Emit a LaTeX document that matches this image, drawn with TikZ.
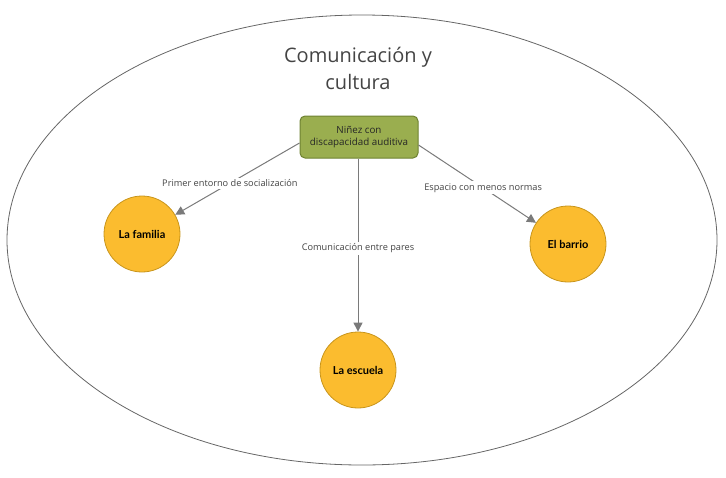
\documentclass[tikz,border=0pt]{standalone}
\usepackage{fontspec}
\setmainfont{Open Sans}
\newfontfamily\latofont{Lato}
\usepackage{xcolor}
\usetikzlibrary{arrows.meta, positioning, shapes.geometric}

\definecolor{boxgreen}{HTML}{9AAE4F}
\definecolor{boxedge}{HTML}{6E8232}
\definecolor{circfill}{HTML}{FBBC2F}
\definecolor{circedge}{HTML}{C8951C}
\definecolor{linkgray}{HTML}{7A7A7A}
\definecolor{txtgray}{HTML}{444444}

\begin{document}
\begin{tikzpicture}[x=1pt, y=-1pt,
    topic/.style={draw=boxedge, fill=boxgreen, rounded corners=5pt, line width=1pt,
        minimum width=118pt, minimum height=42pt, align=center,
        font=\fontsize{9.8}{12}\selectfont, text=black!85},
    place/.style={circle, draw=circedge, fill=circfill, line width=0.8pt,
        minimum size=76pt, font=\latofont\bfseries\fontsize{11}{13}\selectfont},
    link/.style={draw=linkgray, line width=1pt, -{Triangle[length=9pt, width=9pt]}},
    lbl/.style={fill=white, inner sep=2pt, text=txtgray, font=\fontsize{9.2}{11}\selectfont}]
    \useasboundingbox (0,0) rectangle (726,477);

    % Outer ellipse
    \draw[draw=black!60, line width=0.8pt] (362,240) ellipse [x radius=355, y radius=225];

    % Title
    \node[align=center, text=txtgray, font=\fontsize{20}{27}\selectfont] (title) at (358,68)
        {Comunicación y\\cultura};

    % Central topic and the three places
    \node[topic] (ninez) at (359,137) {Niñez con\\discapacidad auditiva};
    \node[place] (familia) at (142,234) {La familia};
    \node[place] (escuela) at (358,370) {La escuela};
    \node[place] (barrio) at (568,244) {El barrio};

    % Connectors
    \draw[link] ([yshift=-6pt]ninez.west) -- node[lbl, pos=0.56] {Primer entorno de socialización} (familia);
    \draw[link] (ninez.south -| escuela) -- node[lbl, pos=0.52] {Comunicación entre pares} (escuela);
    \draw[link] ([yshift=-8pt]ninez.east) -- node[lbl, pos=0.55] {Espacio con menos normas} (barrio);
\end{tikzpicture}
\end{document}
